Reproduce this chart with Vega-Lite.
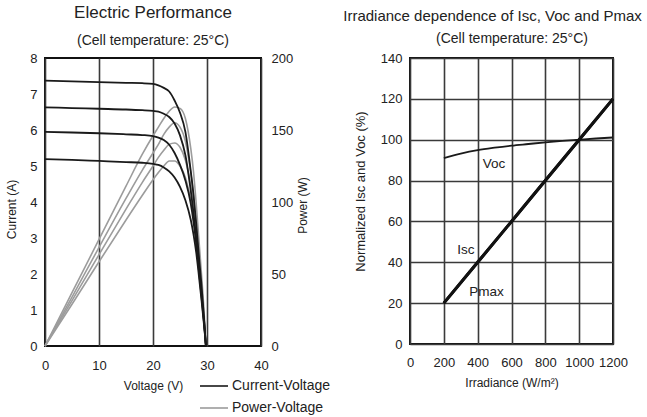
{
  "$schema": "https://vega.github.io/schema/vega-lite/v6.json",
  "padding": {"left": 4, "top": 3, "right": 0, "bottom": 0},
  "background": "white",
  "config": {
    "font": "Liberation Sans",
    "view": {"stroke": "#111", "strokeWidth": 2},
    "axis": {
      "grid": true, "gridColor": "#3a3a3a", "gridWidth": 1.6, "gridOpacity": 1,
      "domain": false, "ticks": false, "labelOverlap": false, "labelFlush": false,
      "labelFontSize": 13, "labelColor": "#222", "labelPadding": 8,
      "titleFontSize": 12, "titleFontWeight": "normal", "titleColor": "#222"
    },
    "axisBottom": {"labelPadding": 13, "titlePadding": 8},
    "title": {"fontSize": 17, "fontWeight": "normal", "color": "#222", "subtitleFontSize": 14, "subtitleColor": "#222", "anchor": "middle", "frame": "group"}
  },
  "datasets": {
    "iv": [
      {"c":1,"V":0,"I":7.37,"P":0},{"c":1,"V":5,"I":7.35,"P":37},{"c":1,"V":10,"I":7.33,"P":74},{"c":1,"V":15,"I":7.31,"P":111},{"c":1,"V":18,"I":7.30,"P":133},{"c":1,"V":20,"I":7.28,"P":146},{"c":1,"V":21,"I":7.24,"P":152},{"c":1,"V":22,"I":7.17,"P":158},{"c":1,"V":23,"I":7.07,"P":163},{"c":1,"V":24,"I":6.82,"P":166},{"c":1,"V":25,"I":6.48,"P":165},{"c":1,"V":26,"I":5.95,"P":158},{"c":1,"V":27,"I":4.85,"P":137},{"c":1,"V":27.5,"I":4.2,"P":121},{"c":1,"V":28,"I":3.4,"P":99},{"c":1,"V":28.5,"I":2.5,"P":74},{"c":1,"V":29,"I":1.65,"P":49},{"c":1,"V":29.5,"I":0.65,"P":21},{"c":1,"V":29.8,"I":0,"P":0},
      {"c":2,"V":0,"I":6.63,"P":0},{"c":2,"V":5,"I":6.61,"P":34},{"c":2,"V":10,"I":6.59,"P":68.5},{"c":2,"V":15,"I":6.57,"P":102.5},{"c":2,"V":18,"I":6.55,"P":122},{"c":2,"V":20,"I":6.53,"P":134},{"c":2,"V":21,"I":6.51,"P":140},{"c":2,"V":22,"I":6.45,"P":147},{"c":2,"V":23,"I":6.36,"P":152},{"c":2,"V":24,"I":6.18,"P":155},{"c":2,"V":25,"I":5.85,"P":152},{"c":2,"V":26,"I":5.3,"P":142},{"c":2,"V":27,"I":4.3,"P":120},{"c":2,"V":27.5,"I":3.7,"P":105},{"c":2,"V":28,"I":3.0,"P":86},{"c":2,"V":28.5,"I":2.2,"P":65},{"c":2,"V":29,"I":1.45,"P":43},{"c":2,"V":29.5,"I":0.6,"P":18},{"c":2,"V":29.8,"I":0,"P":0},
      {"c":3,"V":0,"I":5.95,"P":0},{"c":3,"V":5,"I":5.93,"P":31.5},{"c":3,"V":10,"I":5.91,"P":63.5},{"c":3,"V":15,"I":5.88,"P":95},{"c":3,"V":18,"I":5.86,"P":113.5},{"c":3,"V":20,"I":5.83,"P":125},{"c":3,"V":21,"I":5.79,"P":131},{"c":3,"V":22,"I":5.72,"P":136},{"c":3,"V":23,"I":5.59,"P":140},{"c":3,"V":24,"I":5.36,"P":141},{"c":3,"V":25,"I":5.03,"P":138},{"c":3,"V":26,"I":4.6,"P":129},{"c":3,"V":27,"I":3.95,"P":111},{"c":3,"V":27.5,"I":3.45,"P":98},{"c":3,"V":28,"I":2.85,"P":82},{"c":3,"V":28.5,"I":2.1,"P":61},{"c":3,"V":29,"I":1.35,"P":40},{"c":3,"V":29.5,"I":0.55,"P":17},{"c":3,"V":29.8,"I":0,"P":0},
      {"c":4,"V":0,"I":5.19,"P":0},{"c":4,"V":5,"I":5.17,"P":29},{"c":4,"V":10,"I":5.14,"P":58.5},{"c":4,"V":15,"I":5.11,"P":87.5},{"c":4,"V":18,"I":5.09,"P":104.5},{"c":4,"V":20,"I":5.06,"P":115.5},{"c":4,"V":21,"I":5.03,"P":120.5},{"c":4,"V":22,"I":4.96,"P":125},{"c":4,"V":23,"I":4.85,"P":128.5},{"c":4,"V":24,"I":4.68,"P":128.5},{"c":4,"V":25,"I":4.42,"P":125},{"c":4,"V":26,"I":4.05,"P":117},{"c":4,"V":27,"I":3.5,"P":101},{"c":4,"V":27.5,"I":3.1,"P":90},{"c":4,"V":28,"I":2.6,"P":76},{"c":4,"V":28.5,"I":1.95,"P":57},{"c":4,"V":29,"I":1.25,"P":37},{"c":4,"V":29.5,"I":0.5,"P":15},{"c":4,"V":29.8,"I":0,"P":0}
    ],
    "irr": [
      {"s":"Voc","G":200,"v":91},{"s":"Voc","G":300,"v":93.2},{"s":"Voc","G":400,"v":94.9},{"s":"Voc","G":500,"v":96.1},{"s":"Voc","G":600,"v":97.1},{"s":"Voc","G":700,"v":97.9},{"s":"Voc","G":800,"v":98.7},{"s":"Voc","G":900,"v":99.4},{"s":"Voc","G":1000,"v":100},{"s":"Voc","G":1100,"v":100.6},{"s":"Voc","G":1200,"v":101.1},
      {"s":"Isc","G":200,"v":20},{"s":"Isc","G":400,"v":40},{"s":"Isc","G":600,"v":60},{"s":"Isc","G":800,"v":80},{"s":"Isc","G":1000,"v":100},{"s":"Isc","G":1200,"v":120},
      {"s":"Pmax","G":200,"v":20},{"s":"Pmax","G":400,"v":40},{"s":"Pmax","G":600,"v":60},{"s":"Pmax","G":800,"v":80},{"s":"Pmax","G":1000,"v":100},{"s":"Pmax","G":1200,"v":120}
    ],
    "lbl": [
      {"G":497,"v":88,"t":"Voc"},{"G":330,"v":46,"t":"Isc"},{"G":452,"v":25.3,"t":"Pmax"}
    ]
  },
  "bounds": "flush",
  "spacing": 149,
  "hconcat": [
    {
      "width": 216, "height": 288,
      "title": {"text": "Electric Performance", "subtitle": "(Cell temperature: 25°C)", "fontSize": 17, "subtitleFontSize": 14, "offset": 3, "subtitlePadding": 12},
      "data": {"name": "iv"},
      "layer": [
        {
          "mark": {"type": "line", "interpolate": "monotone", "strokeWidth": 1.6},
          "encoding": {
            "x": {"field": "V", "type": "quantitative", "scale": {"domain": [0, 40], "nice": false}, "axis": {"values": [0,10,20,30,40], "tickCount": 10, "format": "d", "title": "Voltage (V)"}},
            "y": {"field": "P", "type": "quantitative", "scale": {"domain": [0, 200], "nice": false}, "axis": {"orient": "right", "values": [0,50,100,150,200], "tickCount": 10, "format": "d", "grid": false, "title": "Power (W)", "titleAngle": -90, "titleBaseline": "top", "titleY": 147, "labelPadding": 10, "titlePadding": 5}},
            "detail": {"field": "c"},
            "color": {"datum": "Power-Voltage", "scale": {"domain": ["Current-Voltage", "Power-Voltage"], "range": ["#1a1a1a", "#9c9c9c"]},
              "legend": {"orient": "none", "legendX": 154, "legendY": 313, "title": null, "symbolType": "stroke", "symbolSize": 784, "symbolStrokeWidth": 1.6, "labelFontSize": 14, "labelColor": "#222", "labelOffset": 3, "rowPadding": -11}}
          }
        },
        {
          "mark": {"type": "line", "interpolate": "monotone", "strokeWidth": 1.8},
          "encoding": {
            "x": {"field": "V", "type": "quantitative"},
            "y": {"field": "I", "type": "quantitative", "scale": {"domain": [0, 8], "nice": false}, "axis": {"orient": "left", "values": [0,1,2,3,4,5,6,7,8], "tickCount": 12, "format": "d", "title": "Current (A)", "titleY": 151, "titlePadding": 11}},
            "detail": {"field": "c"},
            "color": {"datum": "Current-Voltage"}
          }
        }
      ],
      "resolve": {"scale": {"y": "independent"}}
    },
    {
      "width": 203, "height": 286,
      "title": {"text": "Irradiance dependence of Isc, Voc and Pmax", "fontSize": 15, "dx": -19, "offset": 7},
      "layer": [
        {
          "layer": [
            {
              "data": {"name": "irr"},
              "transform": [{"filter": "datum.s === 'Voc'"}],
              "mark": {"type": "line", "interpolate": "monotone", "strokeWidth": 1.8, "color": "#1a1a1a"},
              "encoding": {
                "x": {"field": "G", "type": "quantitative", "scale": {"domain": [0, 1200], "nice": false}, "axis": {"values": [0,200,400,600,800,1000,1200], "tickCount": 10, "format": "d", "labelPadding": 12, "title": "Irradiance (W/m²)"}},
                "y": {"field": "v", "type": "quantitative", "scale": {"domain": [0, 140], "nice": false}, "axis": {"values": [0,20,40,60,80,100,120,140], "tickCount": 10, "format": "d", "title": "Normalized Isc and Voc (%)", "titleFontSize": 13, "titlePadding": 13, "titleY": 133}}
              }
            },
            {
              "data": {"name": "irr"},
              "transform": [{"filter": "datum.s !== 'Voc'"}],
              "mark": {"type": "line", "strokeWidth": 3, "color": "#111"},
              "encoding": {
                "x": {"field": "G", "type": "quantitative"},
                "y": {"field": "v", "type": "quantitative"},
                "detail": {"field": "s"}
              }
            },
            {
              "data": {"name": "lbl"},
              "mark": {"type": "text", "fontSize": 13.5, "color": "#222"},
              "encoding": {
                "x": {"field": "G", "type": "quantitative"},
                "y": {"field": "v", "type": "quantitative"},
                "text": {"field": "t"}
              }
            }
          ]
        },
        {
          "data": {"name": "lbl"},
          "mark": {"type": "point", "opacity": 0},
          "encoding": {
            "x": {"field": "G", "type": "quantitative", "axis": {"orient": "top", "values": [0,200,400,600,800,1000,1200], "tickCount": 10, "labels": false, "ticks": false, "domain": false, "grid": false, "title": "(Cell temperature: 25°C)", "titleFontSize": 14, "titlePadding": 13}},
            "y": {"field": "v", "type": "quantitative"}
          }
        }
      ],
      "resolve": {"axis": {"x": "independent"}}
    }
  ]
}
